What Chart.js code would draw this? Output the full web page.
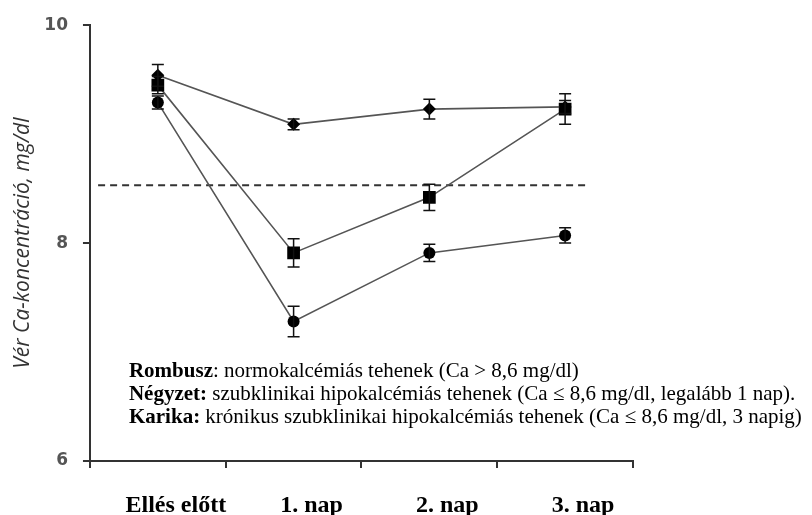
<!DOCTYPE html>
<html>
<head>
<meta charset="utf-8">
<script src="https://cdn.jsdelivr.net/npm/chart.js@4.4.0/dist/chart.umd.min.js"></script>
<style>
  html, body { margin: 0; padding: 0; background: #fff; }
</style>
</head>
<body>
<canvas id="myChart" width="812" height="515"></canvas>
<script>
const categories = ["Ellés előtt", "1. nap", "2. nap", "3. nap"];

// Rombusz / Négyzet / Karika
const rombusz = [9.54, 9.09, 9.23, 9.25];
const rombuszErr = [0.10, 0.05, 0.09, 0.06];
const negyzet = [9.45, 7.91, 8.42, 9.23];
const negyzetErr = [0.08, 0.13, 0.12, 0.14];
const karika = [9.29, 7.28, 7.91, 8.07];
const karikaErr = [0.06, 0.14, 0.08, 0.07];

const threshold = 8.53;
const thresholdFrom = -0.44; // category index
const thresholdTo = 3.17;

const yTicks = [6, 8, 10];

const legendLines = [
  ["Rombusz", ": normokalcémiás tehenek (Ca > 8,6 mg/dl)"],
  ["Négyzet:", " szubklinikai hipokalcémiás tehenek (Ca ≤ 8,6 mg/dl, legalább 1 nap)."],
  ["Karika:", " krónikus szubklinikai hipokalcémiás tehenek (Ca ≤ 8,6 mg/dl, 3 napig)"]
];

const ctx = document.getElementById("myChart");

const extras = {
  id: "extras",
  beforeDatasetsDraw(chart) {
    const c = chart.ctx;
    const x = chart.scales.x, y = chart.scales.y;
    // dashed threshold line
    c.save();
    c.strokeStyle = "#333";
    c.lineWidth = 2;
    c.setLineDash([7, 5]);
    c.beginPath();
    c.moveTo(x.getPixelForValue(thresholdFrom), y.getPixelForValue(threshold));
    c.lineTo(x.getPixelForValue(thresholdTo), y.getPixelForValue(threshold));
    c.stroke();
    c.restore();
  },
  afterDatasetsDraw(chart) {
    const c = chart.ctx;
    const x = chart.scales.x, y = chart.scales.y;
    const errs = [rombuszErr, negyzetErr, karikaErr];
    c.save();
    c.strokeStyle = "#111";
    c.lineWidth = 1.5;
    chart.data.datasets.forEach((ds, i) => {
      ds.data.forEach((v, j) => {
        const px = x.getPixelForValue(j);
        const top = y.getPixelForValue(v + errs[i][j]);
        const bot = y.getPixelForValue(v - errs[i][j]);
        c.beginPath();
        c.moveTo(px, top); c.lineTo(px, bot);
        c.moveTo(px - 6, top); c.lineTo(px + 6, top);
        c.moveTo(px - 6, bot); c.lineTo(px + 6, bot);
        c.stroke();
      });
    });
    c.restore();

    // legend text
    const a = chart.chartArea;
    c.save();
    c.fillStyle = "#000";
    c.textBaseline = "middle";
    legendLines.forEach((ln, i) => {
      const lx = a.left + 39;
      const ly = a.top + 346 + i * 23;
      c.font = "bold 21px 'Liberation Serif'";
      c.fillText(ln[0], lx, ly);
      const w = c.measureText(ln[0]).width;
      c.font = "21px 'Liberation Serif'";
      c.fillText(ln[1], lx + w, ly);
    });
    c.restore();
  }
};

new Chart(ctx, {
  type: "line",
  data: {
    labels: categories,
    datasets: [
      { label: "Rombusz", data: rombusz, pointStyle: "rectRot", pointRadius: 6.5 },
      { label: "Négyzet", data: negyzet, pointStyle: "rect", pointRadius: 9 },
      { label: "Karika", data: karika, pointStyle: "circle", pointRadius: 6 }
    ].map(d => Object.assign(d, {
      borderColor: "#555",
      borderWidth: 1.6,
      backgroundColor: "#000",
      pointBackgroundColor: "#000",
      pointBorderColor: "#000",
      pointBorderWidth: 0,
      tension: 0
    }))
  },
  options: {
    responsive: false,
    animation: false,
    devicePixelRatio: 1,
    layout: { padding: { top: 12, right: 179, bottom: -29, left: 0 } },
    plugins: { legend: { display: false }, tooltip: { enabled: false } },
    scales: {
      x: {
        offset: true,
        border: { color: "#333", width: 2 },
        grid: { drawOnChartArea: false, drawTicks: true, tickLength: 7, color: "#333", lineWidth: 2, offset: true },
        ticks: {
          color: "#000",
          font: { family: "'Liberation Serif'", size: 24, weight: "bold" },
          padding: 23.6,
          labelOffset: 18,
          maxRotation: 0
        }
      },
      y: {
        min: 6,
        max: 10,
        afterBuildTicks: (axis) => { axis.ticks = yTicks.map(v => ({ value: v })); },
        border: { color: "#333", width: 2 },
        grid: { drawOnChartArea: false, drawTicks: true, tickLength: 7, color: "#333", lineWidth: 2 },
        ticks: {
          color: "#555",
          font: { family: "'DejaVu Sans'", size: 17, weight: "bold" },
          padding: 15
        },
        title: {
          display: true,
          text: "Vér Ca-koncentráció, mg/dl",
          color: "#333",
          font: { family: "'Open Sans'", size: 21, style: "italic" },
          padding: { top: 10.4, bottom: -6.3 }
        }
      }
    }
  },
  plugins: [extras]
});
</script>
</body>
</html>
